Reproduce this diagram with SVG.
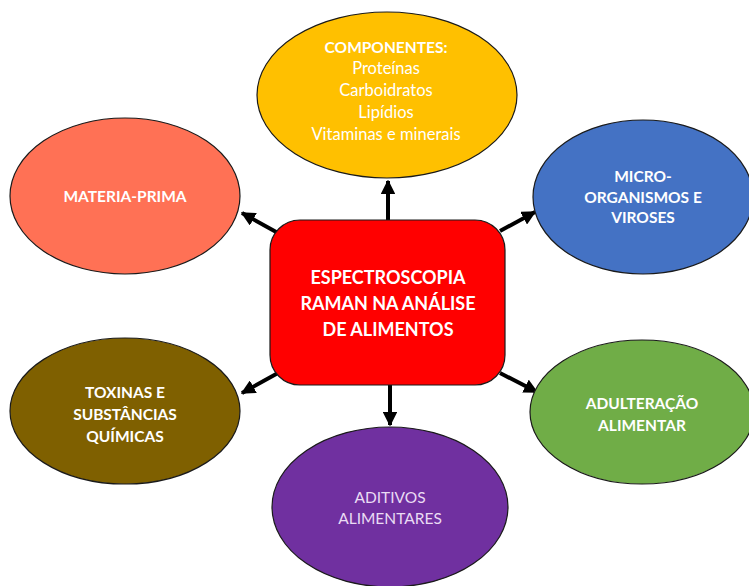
<svg xmlns="http://www.w3.org/2000/svg" width="749" height="586" viewBox="0 0 749 586">
  <defs>
    <marker id="head" viewBox="0 0 10 10" refX="9" refY="5" markerWidth="3.6" markerHeight="3.6" orient="auto" markerUnits="strokeWidth">
      <path d="M0,0 L10,5 L0,10 z" fill="#000"/>
    </marker>
  </defs>
  <style>
    .node { stroke: #1a1a1a; stroke-width: 1.2; }
    .t { font-family: Lato, "Open Sans", "Liberation Sans", sans-serif; fill: #ffffff; text-anchor: middle; }
    .b { font-weight: bold; font-size: 15.5px; }
    .r { font-size: 16.5px; }
    .c { font-weight: bold; font-size: 18px; }
    .conn line { stroke: #000; stroke-width: 4; marker-end: url(#head); }
  </style>
  <rect width="749" height="586" fill="#ffffff"/>

  <g id="connectors" class="conn">
    <line x1="388" y1="221" x2="388" y2="181"/>
    <line x1="278" y1="233" x2="242" y2="213"/>
    <line x1="500" y1="231" x2="535" y2="212"/>
    <line x1="278" y1="373" x2="242" y2="393"/>
    <line x1="500" y1="373" x2="537" y2="392"/>
    <line x1="390" y1="384" x2="390" y2="425"/>
  </g>

  <g id="componentes">
    <ellipse class="node" cx="387" cy="95" rx="130" ry="83" fill="#FFC000"/>
    <text class="t b" x="386" y="53">COMPONENTES:</text>
    <text class="t r" x="386" y="74">Proteínas</text>
    <text class="t r" x="386" y="96">Carboidratos</text>
    <text class="t r" x="386" y="118">Lipídios</text>
    <text class="t r" x="386" y="140">Vitaminas e minerais</text>
  </g>

  <g id="materia-prima">
    <ellipse class="node" cx="125" cy="196" rx="115" ry="78" fill="#FF7155"/>
    <text class="t b" x="125" y="202">MATERIA-PRIMA</text>
  </g>

  <g id="microrganismos">
    <ellipse class="node" cx="643" cy="197" rx="110" ry="77" fill="#4472C4"/>
    <text class="t b" x="643" y="182">MICRO-</text>
    <text class="t b" x="643" y="203">ORGANISMOS E</text>
    <text class="t b" x="643" y="223">VIROSES</text>
  </g>

  <g id="toxinas">
    <ellipse class="node" cx="125" cy="411" rx="115" ry="73" fill="#7F6000"/>
    <text class="t b" x="125" y="398">TOXINAS E</text>
    <text class="t b" x="125" y="420">SUBSTÂNCIAS</text>
    <text class="t b" x="125" y="442">QUÍMICAS</text>
  </g>

  <g id="adulteracao">
    <ellipse class="node" cx="642" cy="412" rx="112" ry="72" fill="#70AD47"/>
    <text class="t b" x="642" y="409">ADULTERAÇÃO</text>
    <text class="t b" x="642" y="431">ALIMENTAR</text>
  </g>

  <g id="aditivos">
    <ellipse class="node" cx="390" cy="507" rx="118" ry="80" fill="#7030A0"/>
    <text class="t" x="390" y="503" style="fill:#eadcf4;font-size:15.5px">ADITIVOS</text>
    <text class="t" x="390" y="524" style="fill:#eadcf4;font-size:15.5px">ALIMENTARES</text>
  </g>

  <g id="espectroscopia">
    <rect class="node" x="270" y="220" width="235" height="165" rx="30" ry="30" fill="#FF0000" stroke-width="2"/>
    <text class="t c" x="388" y="284">ESPECTROSCOPIA</text>
    <text class="t c" x="388" y="310">RAMAN NA ANÁLISE</text>
    <text class="t c" x="388" y="336">DE ALIMENTOS</text>
  </g>
</svg>
